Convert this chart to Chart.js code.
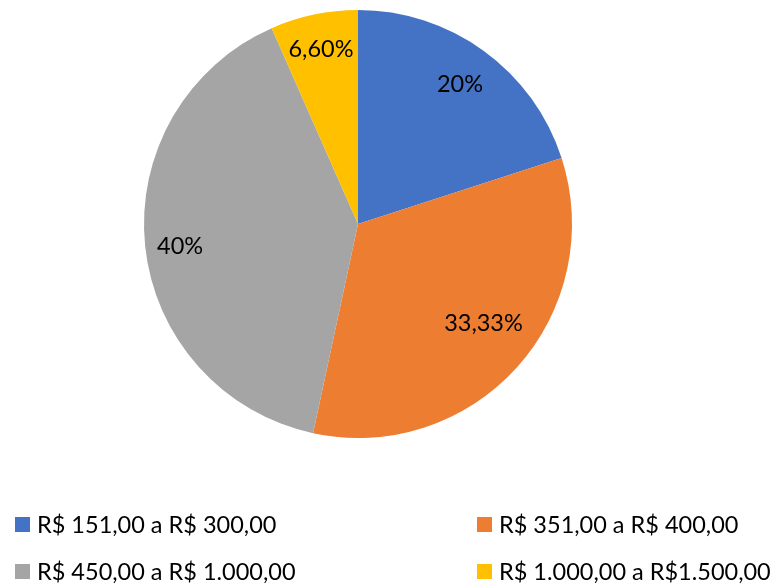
<!DOCTYPE html>
<html>
<head>
<meta charset="utf-8">
<script src="https://cdn.jsdelivr.net/npm/chart.js@4/dist/chart.umd.min.js"></script>
<style>
  html, body { margin: 0; padding: 0; background: #fff; }
  #c { display: block; }
</style>
</head>
<body>
<canvas id="c" width="776" height="585"></canvas>
<script>
const categories = ["R$ 151,00 a R$ 300,00", "R$ 351,00 a R$ 400,00", "R$ 450,00 a R$ 1.000,00", "R$ 1.000,00 a R$1.500,00"];
const values = [20, 33.33, 40, 6.6];
const valueLabels = ["20%", "33,33%", "40%", "6,60%"];
const colors = ["#4472C4", "#ED7D31", "#A5A5A5", "#FFC000"];

const FONT = 'Lato, "Open Sans", sans-serif';

const labelPlugin = {
  id: 'pieLabels',
  afterDatasetsDraw(chart) {
    const ctx = chart.ctx;
    const meta = chart.getDatasetMeta(0);
    const factors = [0.81, 0.745, 0.837, 0.84];
    const shifts = [0, -4, -1, 0];
    ctx.save();
    ctx.font = '23.5px ' + FONT;
    ctx.fillStyle = '#000';
    ctx.textAlign = 'center';
    ctx.textBaseline = 'alphabetic';
    meta.data.forEach((arc, i) => {
      const p = arc.getProps(['x','y','startAngle','endAngle','outerRadius'], true);
      const mid = (p.startAngle + p.endAngle) / 2 + shifts[i] * Math.PI / 180;
      const r = p.outerRadius * factors[i];
      ctx.fillText(valueLabels[i], p.x + Math.cos(mid) * r, p.y + Math.sin(mid) * r + 8.5);
    });
    ctx.restore();
  }
};

const legendPlugin = {
  id: 'gridLegend',
  afterDraw(chart) {
    const ctx = chart.ctx;
    const cols = [15, 477];
    const rows = [517, 564];
    ctx.save();
    ctx.font = '23.5px ' + FONT;
    ctx.textBaseline = 'alphabetic';
    ctx.textAlign = 'left';
    categories.forEach((c, i) => {
      const x = cols[i % 2], y = rows[Math.floor(i / 2)];
      ctx.fillStyle = colors[i];
      ctx.fillRect(x, y, 15, 15);
      ctx.fillStyle = '#000';
      ctx.fillText(c, x + 22, y + 16);
    });
    ctx.restore();
  }
};

new Chart(document.getElementById('c'), {
  type: 'pie',
  data: {
    labels: categories,
    datasets: [{ data: values, backgroundColor: colors, borderWidth: 0 }]
  },
  options: {
    responsive: false,
    animation: false,
    layout: { padding: { left: 144, right: 204, top: 10, bottom: 147 } },
    plugins: { legend: { display: false }, tooltip: { enabled: false } }
  },
  plugins: [labelPlugin, legendPlugin]
});
</script>
</body>
</html>
